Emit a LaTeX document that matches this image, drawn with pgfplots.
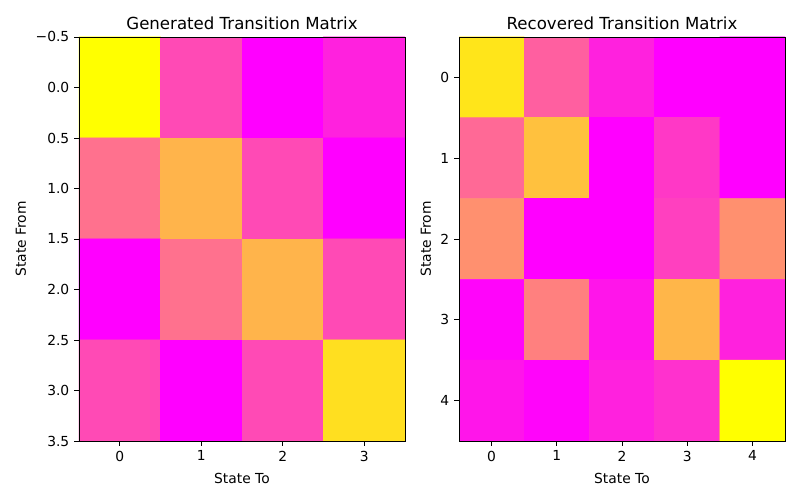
\documentclass[border=0pt]{standalone}
\usepackage{fontspec}
\setmainfont{DejaVu Sans}
\usepackage{pgfplots}
\pgfplotsset{compat=1.18}
\pgfplotstableread{
x y c
0 0 1.00
1 0 0.29
2 0 0.00
3 0 0.13
0 1 0.44
1 1 0.70
2 1 0.29
3 1 0.00
0 2 0.00
1 2 0.44
2 2 0.70
3 2 0.29
0 3 0.29
1 3 0.00
2 3 0.29
3 3 0.87
}\genmat
\pgfplotstableread{
x y c
0 0 0.89
1 0 0.37
2 0 0.13
3 0 0.00
4 0 0.00
0 1 0.41
1 1 0.75
2 1 0.00
3 1 0.22
4 1 0.00
0 2 0.56
1 2 0.00
2 2 0.00
3 2 0.25
4 2 0.56
0 3 0.02
1 3 0.50
2 3 0.08
3 3 0.71
4 3 0.13
0 4 0.08
1 4 0.02
2 4 0.13
3 4 0.19
4 4 1.00
}\recmat
\pgfplotsset{
  hm/.style={
    scale only axis,
    anchor=south west,
    width=235.6pt, height=292.0pt,
    y dir=reverse,
    colormap={spring}{rgb=(1,0,1) rgb=(1,1,0)},
    point meta min=0, point meta max=1,
    xtick pos=bottom, ytick pos=left,
    tick align=outside,
    major tick length=3.5pt,
    tick style={black, line width=0.6pt},
    axis line style={line width=0.6pt},
    xlabel={State To}, ylabel={State From},
    xlabel style={yshift=-1.5pt},
    tick label style={font=\fontsize{10}{12}\selectfont},
    label style={font=\fontsize{10}{12}\selectfont},
    title style={font=\fontsize{12}{14}\selectfont, yshift=-4pt},
    /pgf/number format/assume math mode=true,
    axis on top,
  }
}
\begin{document}
\begin{tikzpicture}
\useasboundingbox (0,0) rectangle (578.16pt,361.35pt);
\begin{axis}[hm, at={(57.09pt,42.64pt)},
  title={Generated Transition Matrix},
  xmin=-0.5, xmax=3.5, ymin=-0.5, ymax=3.5,
  xtick={0,1,2,3},
  ytick={-0.5,0,0.5,1,1.5,2,2.5,3,3.5},
  yticklabels={−0.5,0.0,0.5,1.0,1.5,2.0,2.5,3.0,3.5},
]
\addplot[matrix plot*, mesh/cols=4, point meta=explicit] table[x=x,y=y,meta=c] {\genmat};
\end{axis}
\begin{axis}[hm, at={(331.72pt,42.64pt)},
  title={Recovered Transition Matrix},
  xmin=-0.5, xmax=4.5, ymin=-0.5, ymax=4.5,
  xtick={0,1,2,3,4},
  ytick={0,1,2,3,4},
]
\addplot[matrix plot*, mesh/cols=5, point meta=explicit] table[x=x,y=y,meta=c] {\recmat};
\end{axis}
\end{tikzpicture}
\end{document}
